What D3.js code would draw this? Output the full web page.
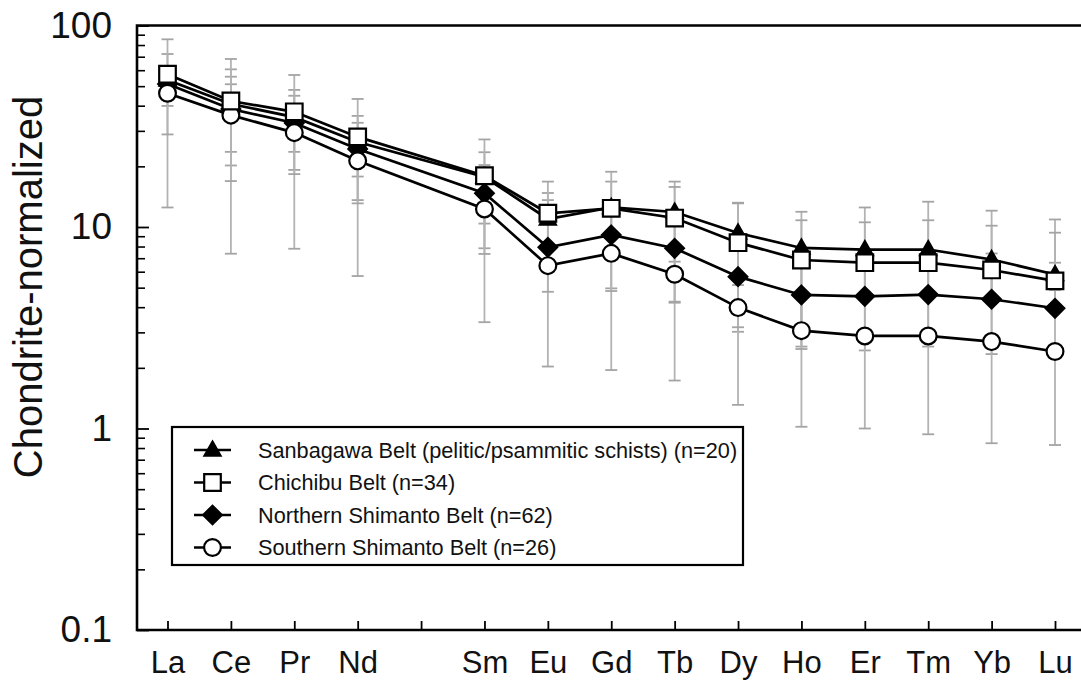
<!DOCTYPE html>
<html>
<head>
<meta charset="utf-8">
<script src="https://cdn.jsdelivr.net/npm/d3@7"></script>
<style>
  html, body { margin: 0; padding: 0; background: #fff; }
  svg { display: block; }
  text { font-family: "Liberation Sans", Arial, Helvetica, sans-serif; fill: #111; }
</style>
</head>
<body>
<svg id="chart" width="1081" height="684"></svg>
<script>
// REE axis (Pm is kept as an empty slot)
const elements = ["La","Ce","Pr","Nd","Pm","Sm","Eu","Gd","Tb","Dy","Ho","Er","Tm","Yb","Lu"];
const plotted  = ["La","Ce","Pr","Nd","Sm","Eu","Gd","Tb","Dy","Ho","Er","Tm","Yb","Lu"];
const xTickLabels = ["La","Ce","Pr","Nd","","Sm","Eu","Gd","Tb","Dy","Ho","Er","Tm","Yb","Lu"];
const yMajorTicks = [0.1, 1, 10, 100];
const yMajorLabels = ["0.1", "1", "10", "100"];

// chondrite-normalized mean values
const sanbagawa = [53.6, 40.8, 35.1, 26.4, 17.7, 10.96, 12.5, 11.87, 9.34, 7.87, 7.73, 7.73, 6.90, 5.81];
const chichibu  = [57.3, 42.2, 37.3, 28.0, 17.96, 11.7, 12.38, 11.08, 8.36, 6.86, 6.65, 6.65, 6.12, 5.40];
const northern  = [51.3, 38.5, 32.8, 24.4, 14.7, 7.93, 9.13, 7.84, 5.67, 4.60, 4.53, 4.62, 4.38, 3.95];
const southern  = [46.1, 35.9, 29.4, 21.3, 12.29, 6.43, 7.40, 5.83, 3.98, 3.06, 2.88, 2.88, 2.70, 2.41];

// error bar ranges (low / high)
const sanbagawaLow  = [12.5, 20.2, 23.6, 17.8, 10.4, 7.93, 4.96, 6.73, 5.15, 2.55, 2.44, 2.55, 2.34, 4.87];
const sanbagawaHigh = [72.2, 60.6, 47.9, 35.6, 23.5, 14.75, 16.8, 16.8, 13.2, 11.9, 12.5, 13.35, 12.05, 10.9];
const chichibuLow   = [28.8, 16.9, 18.3, 13.1, 7.35, 4.77, 4.81, 4.26, 3.18, 2.48, 4.45, 4.55, 4.35, 3.95];
const chichibuHigh  = [85.4, 68.2, 56.8, 43.2, 27.2, 16.8, 18.8, 15.8, 13.1, 10.8, 10.55, 10.8, 10.15, 9.37];
const northernLow   = [39.9, 7.37, 7.8, 5.71, 7.84, 2.03, 8.92, 1.73, 3.02, 3.12, 1.00, 0.936, 0.845, 0.828];
const northernHigh  = [61.5, 55.7, 44.8, 32.9, 20.3, 13.6, 13.3, 11.7, 8.3, 7.26, 6.48, 6.48, 7.39, 6.65];
const southernLow   = [42.7, 23.6, 19.2, 13.6, 3.37, 6.12, 1.95, 4.21, 1.31, 1.02, 2.75, 2.75, 2.58, 2.30];
const southernHigh  = [50.5, 51.1, 39.9, 28.9, 16.5, 6.70, 12.7, 7.7, 5.71, 4.65, 3.0, 3.0, 2.84, 2.52];

const seriesNames = [
  "Sanbagawa Belt (pelitic/psammitic schists) (n=20)",
  "Chichibu Belt (n=34)",
  "Northern Shimanto Belt (n=62)",
  "Southern Shimanto Belt (n=26)"
];

// marker shapes
const triangleUp = { draw(ctx) { const w = 8, h = 14; ctx.moveTo(0, -h * 0.6); ctx.lineTo(w, h * 0.4); ctx.lineTo(-w, h * 0.4); ctx.closePath(); } };
const squareMk   = { draw(ctx) { const s = 8.3; ctx.moveTo(-s, -s); ctx.lineTo(s, -s); ctx.lineTo(s, s); ctx.lineTo(-s, s); ctx.closePath(); } };
const diamondMk  = { draw(ctx) { const w = 9.3, h = 9.3; ctx.moveTo(0, -h); ctx.lineTo(w, 0); ctx.lineTo(0, h); ctx.lineTo(-w, 0); ctx.closePath(); } };
const circleMk   = { draw(ctx) { const r = 8.4; ctx.moveTo(r, 0); ctx.arc(0, 0, r, 0, 2 * Math.PI); } };

const series = [
  { name: seriesNames[0], values: sanbagawa, low: sanbagawaLow, high: sanbagawaHigh, shape: triangleUp, fill: "#000" },
  { name: seriesNames[2], values: northern,  low: northernLow,  high: northernHigh,  shape: diamondMk,  fill: "#000" },
  { name: seriesNames[3], values: southern,  low: southernLow,  high: southernHigh,  shape: circleMk,   fill: "#fff" },
  { name: seriesNames[1], values: chichibu,  low: chichibuLow,  high: chichibuHigh,  shape: squareMk,   fill: "#fff" }
];
const legendOrder = [series[0], series[3], series[1], series[2]];

const svg = d3.select("#chart");
const plotLeft = 137, plotRight = 1081, plotTop = 25.5, plotBottom = 630;

const x = d3.scalePoint().domain(elements).range([167.5, 1055]);
const y = d3.scaleLog().domain([0.1, 100]).range([plotBottom, plotTop]);

// error bars
const errG = svg.append("g").attr("class", "errors");
series.forEach(s => {
  plotted.forEach((el, i) => {
    const cx = x(el);
    errG.append("line")
      .attr("x1", cx).attr("x2", cx)
      .attr("y1", y(s.low[i])).attr("y2", y(s.high[i]))
      .attr("stroke", "#b3b3b3").attr("stroke-width", 1.8);
    [s.low[i], s.high[i]].forEach(v => {
      errG.append("line")
        .attr("x1", cx - 6).attr("x2", cx + 6)
        .attr("y1", y(v)).attr("y2", y(v))
        .attr("stroke", "#a4a4a4").attr("stroke-width", 1.8);
    });
  });
});

// axes
const minorTicks = [];
[0.1, 1, 10].forEach(d => { for (let k = 2; k <= 9; k++) minorTicks.push(+(d * k).toPrecision(3)); });

svg.append("g")
  .attr("transform", `translate(${plotLeft},0)`)
  .call(d3.axisLeft(y).tickValues(minorTicks).tickSize(-8).tickFormat(""))
  .call(g => g.select(".domain").remove())
  .call(g => g.selectAll(".tick line").attr("stroke", "#000").attr("stroke-width", 1.6));

svg.append("g")
  .attr("transform", `translate(${plotLeft},0)`)
  .call(d3.axisLeft(y).tickValues(yMajorTicks).tickSize(-12).tickPadding(25)
        .tickFormat((d, i) => yMajorLabels[i]))
  .call(g => g.select(".domain").remove())
  .call(g => g.selectAll(".tick line").attr("stroke", "#000").attr("stroke-width", 1.8))
  .call(g => g.selectAll(".tick text").attr("font-size", 37).attr("fill", "#111")
        .attr("font-family", "'Liberation Sans', Arial, sans-serif"));

svg.append("g")
  .attr("transform", `translate(0,${plotBottom})`)
  .call(d3.axisBottom(x).tickSize(-9).tickPadding(21).tickFormat((d, i) => xTickLabels[i]))
  .call(g => g.select(".domain").remove())
  .call(g => g.selectAll(".tick line").attr("stroke", "#000").attr("stroke-width", 1.8))
  .call(g => g.selectAll(".tick text").attr("font-size", 31).attr("fill", "#111")
        .attr("font-family", "'Liberation Sans', Arial, sans-serif"));

// frame: left, top and bottom edges
svg.append("path")
  .attr("d", `M${plotRight},${plotTop}H${plotLeft}V${plotBottom}H${plotRight}`)
  .attr("fill", "none").attr("stroke", "#000").attr("stroke-width", 2.6);

// y axis title
svg.append("text")
  .attr("transform", `translate(42,287) rotate(-90)`)
  .attr("text-anchor", "middle")
  .attr("font-size", 40)
  .text("Chondrite-normalized");

// series lines and markers
const line = d3.line().x((d, i) => x(plotted[i])).y(d => y(d));
series.forEach(s => {
  const g = svg.append("g");
  g.append("path").attr("d", line(s.values))
    .attr("fill", "none").attr("stroke", "#000").attr("stroke-width", 2.7);
  g.selectAll("path.mk").data(s.values).join("path").attr("class", "mk")
    .attr("transform", (d, i) => `translate(${x(plotted[i])},${y(d)})`)
    .attr("d", d3.symbol().type(s.shape))
    .attr("fill", s.fill).attr("stroke", "#000").attr("stroke-width", 2.2);
});

// legend
const lg = svg.append("g");
lg.append("rect").attr("x", 172).attr("y", 427).attr("width", 571).attr("height", 138)
  .attr("fill", "#fff").attr("stroke", "#000").attr("stroke-width", 2.2);
legendOrder.forEach((s, i) => {
  const cy = 450 + i * 32.5;
  lg.append("line").attr("x1", 194).attr("x2", 231).attr("y1", cy).attr("y2", cy)
    .attr("stroke", "#000").attr("stroke-width", 2.6);
  lg.append("path").attr("transform", `translate(212.5,${cy})`)
    .attr("d", d3.symbol().type(s.shape))
    .attr("fill", s.fill).attr("stroke", "#000").attr("stroke-width", 2.2);
  lg.append("text").attr("x", 258).attr("y", cy).attr("dy", "0.36em")
    .attr("font-size", 21.7).text(s.name);
});
</script>
</body>
</html>
